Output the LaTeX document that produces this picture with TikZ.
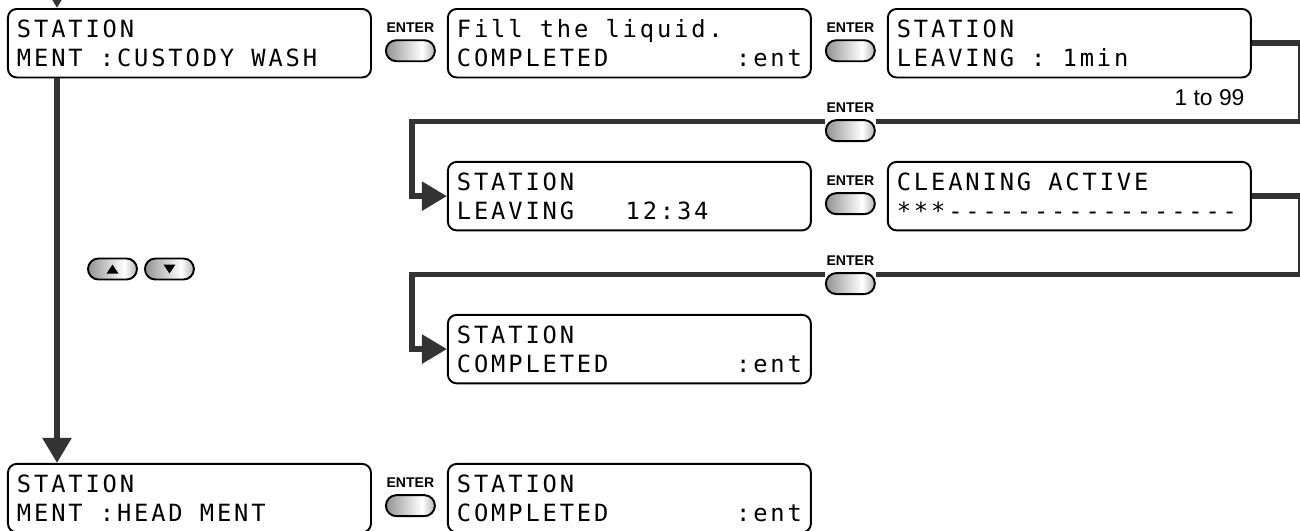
\documentclass[tikz,border=0pt]{standalone}
\usepackage{fontspec}
\newfontfamily\lcdfont[LetterSpace=12.1,Ligatures=TeXOff]{DejaVu Sans Mono}
\newfontfamily\keyfont{Liberation Sans}
\usetikzlibrary{positioning,arrows.meta,shapes.misc}

% one empty character cell of the display
\newcommand\blank{\hspace*{9.77pt}}

\pgfdeclarehorizontalshading{keyshade}{100bp}{color(0bp)=(gray!85); color(25bp)=(gray!85); color(62bp)=(white); color(75bp)=(gray!60); color(100bp)=(gray!60)}

\begin{document}
\begin{tikzpicture}[
    node distance=1.65cm and 1.5cm,
    >={Triangle[length=0.5cm,width=0.56cm]},
    label distance=0.12cm,
    lcdbox/.style={draw, line width=1.1pt, rounded corners=5pt, minimum width=7.26cm, minimum height=1.37cm, text width=6.9cm, inner xsep=0.18cm, inner ysep=0pt, align=left,
        font=\lcdfont\fontsize{13.5}{16.5}\selectfont,
        execute at begin node={\rule{0pt}{0.52cm}}, execute at end node={\rule[-0.15cm]{0pt}{0pt}}},
    keybtn/.style={rounded rectangle, draw, line width=1.1pt, minimum width=0.98cm, minimum height=0.42cm, inner sep=0pt, shading=keyshade},
    enterbtn/.style={keybtn, label={[keylabel]above:ENTER}},
    keylabel/.style={font=\keyfont\bfseries\fontsize{8}{9}\selectfont, inner sep=0pt},
    flow/.style={draw=black!80, line width=3.2pt}
]
\useasboundingbox (0,0) rectangle (26,-10.62);
\clip (0,0) rectangle (26,-10.62);

% first row
\node[lcdbox, anchor=north west] (custody) at (0.14,-0.16) {STATION\\MENT\blank:CUSTODY\blank WASH};
\node[lcdbox, right=of custody] (fill) {Fill\blank the\blank liquid.\\COMPLETED\hfill:ent};
\node[lcdbox, right=of fill] (leave) {STATION\\LEAVING\blank:\blank 1min};
\node[anchor=north east, inner sep=0pt, font=\keyfont\fontsize{13}{15}\selectfont] (range) at ([xshift=-0.14cm,yshift=-0.22cm]leave.south east) {1 to 99};

% second and third row
\node[lcdbox, below=of fill] (timer) {STATION\\LEAVING\blank\blank\blank 12:34};
\node[lcdbox, right=of timer] (active) {CLEANING\blank ACTIVE\\\relax***-----------------};
\node[lcdbox, below=of timer] (done) {STATION\\COMPLETED\hfill:ent};

% last row
\node[lcdbox, below=7.69cm of custody] (head) {STATION\\MENT\blank:HEAD\blank MENT};
\node[lcdbox, right=of head] (headdone) {STATION\\COMPLETED\hfill:ent};

% keys
\node[enterbtn, right=0.26cm of custody, yshift=-0.15cm] (ent1) {};
\node[enterbtn, right=0.26cm of fill, yshift=-0.15cm] (ent2) {};
\node[enterbtn, below=1.14cm of ent2] (ent3) {};
\node[enterbtn, right=0.26cm of timer, yshift=-0.15cm] (ent4) {};
\node[enterbtn, below=1.14cm of ent4] (ent5) {};
\node[enterbtn, right=0.26cm of head, yshift=-0.15cm] (ent6) {};

\node[keybtn] (upkey) at (2.25,-5.38) {};
\node[keybtn, right=0.12cm of upkey] (downkey) {};
\fill ([shift={(-0.12,-0.09)}]upkey.center) -- ++(0.24,0) -- ++(-0.12,0.18) -- cycle;
\fill ([shift={(-0.12,0.09)}]downkey.center) -- ++(0.24,0) -- ++(-0.12,-0.18) -- cycle;

% connectors
\coordinate (entry) at ([xshift=1cm,yshift=1cm]custody.north west);
\draw[flow, ->] (entry) -- ([xshift=1cm]custody.north west);
\draw[flow, ->] ([xshift=1cm]custody.south west) -- ([xshift=1cm]head.north west);

\draw[flow] (leave.east) -- ++(0.98,0) |- ([yshift=0.18cm]ent3.east);
\draw[flow, ->] ([yshift=0.18cm]ent3.west) -| ([xshift=-0.7cm]timer.west) -- (timer.west);
\draw[flow] (active.east) -- ++(0.98,0) |- ([yshift=0.18cm]ent5.east);
\draw[flow, ->] ([yshift=0.18cm]ent5.west) -| ([xshift=-0.7cm]done.west) -- (done.west);
\end{tikzpicture}
\end{document}
